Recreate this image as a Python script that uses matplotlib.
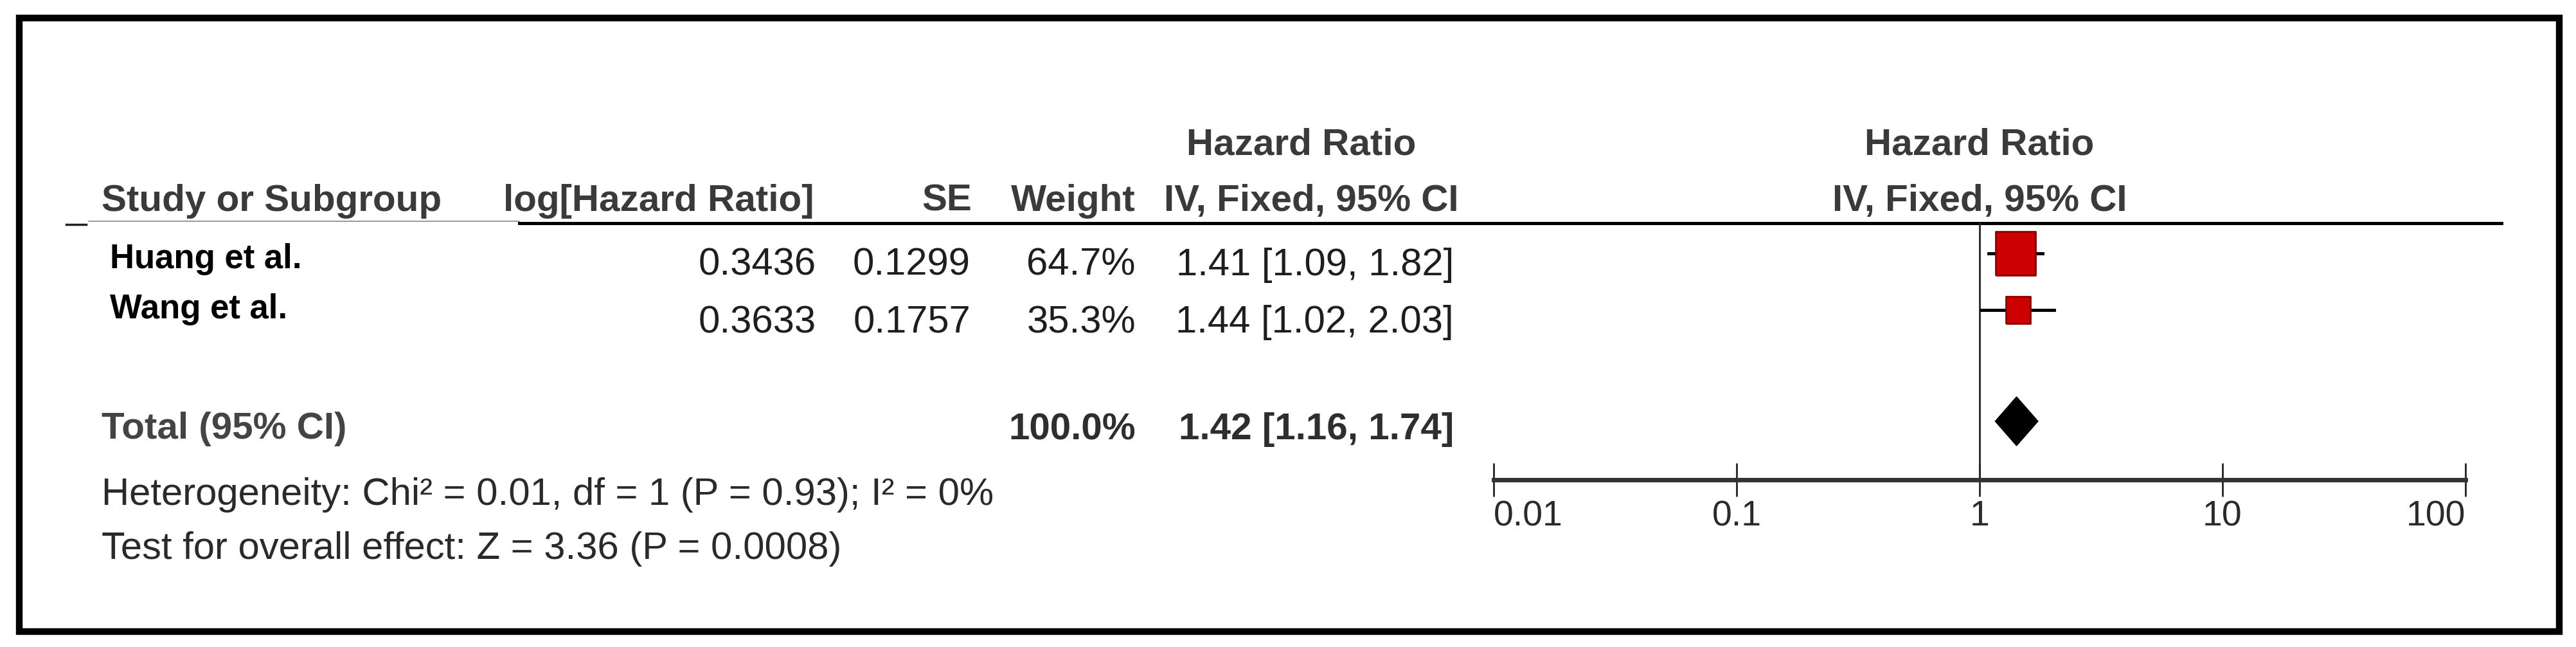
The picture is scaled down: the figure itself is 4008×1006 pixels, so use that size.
import matplotlib
matplotlib.use('Agg')
import matplotlib.pyplot as plt
from matplotlib import font_manager
from matplotlib.path import Path
from matplotlib.patches import Rectangle

# forest plot data
studies = ['Huang et al.', 'Wang et al.']
log_hr = [0.3436, 0.3633]
se = [0.1299, 0.1757]
weight = [64.7, 35.3]
hr = [1.41, 1.44]
ci_lo = [1.09, 1.02]
ci_hi = [1.82, 2.03]

total_weight = 100.0
total_hr = 1.42
total_lo = 1.16
total_hi = 1.74

heterogeneity = 'Heterogeneity: Chi² = 0.01, df = 1 (P = 0.93); I² = 0%'
overall_effect = 'Test for overall effect: Z = 3.36 (P = 0.0008)'

axis_ticks = [0.01, 0.1, 1, 10, 100]
axis_labels = ['0.01', '0.1', '1', '10', '100']

W, H = 4008, 1006

# RevMan uses Arial Narrow; use a narrow face if there is one, else Arial metrics
installed = {f.name for f in font_manager.fontManager.ttflist}
if 'Liberation Sans Narrow' in installed:
    NARROW = ['Liberation Sans Narrow', 'DejaVu Sans']
    k = 1.18
else:
    NARROW = ['Liberation Sans', 'DejaVu Sans']
    k = 1.0
LABEL_FONT = ['Liberation Sans', 'DejaVu Sans']
HEAD_COL = '#3a3a3a'
TXT_COL = '#1e1e1e'

fig = plt.figure(figsize=(W / 100, H / 100), dpi=100)
fig.patch.set_facecolor('white')

# background axes in pixel units for the table part
bg = fig.add_axes([0, 0, 1, 1])
bg.set_xlim(0, W)
bg.set_ylim(H, 0)
bg.axis('off')

# outer frame
bg.add_patch(Rectangle((30, 28), 3952, 954, fill=False, lw=7.5, ec='black'))

# header line
bg.plot([103, 134], [349, 349], color='#222222', lw=2.5)
bg.plot([138, 808], [344, 344], color='#888888', lw=1.2)
bg.plot([808, 3892], [347, 347], color='black', lw=3.6)

# headers
head = dict(family=NARROW, fontsize=42 * k, fontweight='bold', color=HEAD_COL, va='baseline')
bg.text(158, 328, 'Study or Subgroup', ha='left', **head)
bg.text(783, 328, 'log[Hazard Ratio]', ha='left', **head)
bg.text(1512, 328, 'SE', ha='right', **head)
bg.text(1767, 328, 'Weight', ha='right', **head)
bg.text(2025, 240, 'Hazard Ratio', ha='center', **head)
bg.text(2270, 328, 'IV, Fixed, 95% CI', ha='right', **head)
bg.text(3080, 240, 'Hazard Ratio', ha='center', **head)
bg.text(3080, 328, 'IV, Fixed, 95% CI', ha='center', **head)

# study rows
row_y = [428, 517]
label_y = [417, 495]
val = dict(family=NARROW, fontsize=43 * k, color=TXT_COL, va='baseline', ha='right')
for i, name in enumerate(studies):
    bg.text(171, label_y[i], name, family=LABEL_FONT, fontsize=38, fontweight='bold',
            color='black', va='baseline', ha='left')
    bg.text(1270, row_y[i], f'{log_hr[i]:.4f}', **val)
    bg.text(1510, row_y[i], f'{se[i]:.4f}', **val)
    bg.text(1767, row_y[i], f'{weight[i]:.1f}%', **val)
    bg.text(2262, row_y[i], f'{hr[i]:.2f} [{ci_lo[i]:.2f}, {ci_hi[i]:.2f}]', **val)

# total row
tot = dict(family=NARROW, fontsize=42 * k, fontweight='bold', color='#2e2e2e', va='baseline')
bg.text(158, 682, 'Total (95% CI)', ha='left', **dict(tot, color='#444444'))
bg.text(1767, 683, f'{total_weight:.1f}%', ha='right', **tot)
bg.text(2262, 683, f'{total_hr:.2f} [{total_lo:.2f}, {total_hi:.2f}]', ha='right', **tot)

foot = dict(family=NARROW, fontsize=43 * k, color='#2a2a2a', va='baseline', ha='left')
bg.text(158, 785, heterogeneity, **foot)
bg.text(158, 869, overall_effect, **foot)

# forest axes, log scale, spanning 0.01..100
x0, x1 = 2324, 3836
ax = fig.add_axes([x0 / W, 0, (x1 - x0) / W, 1])
ax.set_xscale('log')
ax.set_xlim(0.01, 100)
ax.set_ylim(H, 0)
ax.patch.set_alpha(0)
for s in ['top', 'left', 'right']:
    ax.spines[s].set_visible(False)
ax.spines['bottom'].set_position(('data', 746))
ax.spines['bottom'].set_linewidth(5)
ax.spines['bottom'].set_color('#333333')
ax.set_yticks([])
ax.set_xticks(axis_ticks)
ax.set_xticklabels(axis_labels)
ax.minorticks_off()
ax.tick_params(axis='x', direction='inout', length=37, width=2, color='#222222',
               pad=4, labelsize=40 * k, labelcolor='#2a2a2a')
for lab in ax.get_xticklabels():
    lab.set_family(NARROW)
ax.get_xticklabels()[0].set_ha('left')
ax.get_xticklabels()[-1].set_ha('right')

# line of no effect
ax.plot([1, 1], [347, 746], color='#222222', lw=2)

# study markers
row_c = [394, 482]
for i in range(len(studies)):
    ax.plot([ci_lo[i], ci_hi[i]], [row_c[i], row_c[i]], color='black', lw=3.5, zorder=3)
    side = 2.4 * weight[i] ** 0.8
    box = Path([(-0.91, -1), (0.91, -1), (0.91, 1), (-0.91, 1), (-0.91, -1)])
    ax.plot([hr[i]], [row_c[i]], marker=box, ms=side * 0.72, mfc='#cc0000',
            mec='#8a0000', mew=2, zorder=4)

# pooled diamond
ax.fill([total_lo, total_hr, total_hi, total_hr], [655, 617, 655, 693],
        color='black', zorder=4)

fig.savefig('out.png', dpi=100, facecolor='white')
